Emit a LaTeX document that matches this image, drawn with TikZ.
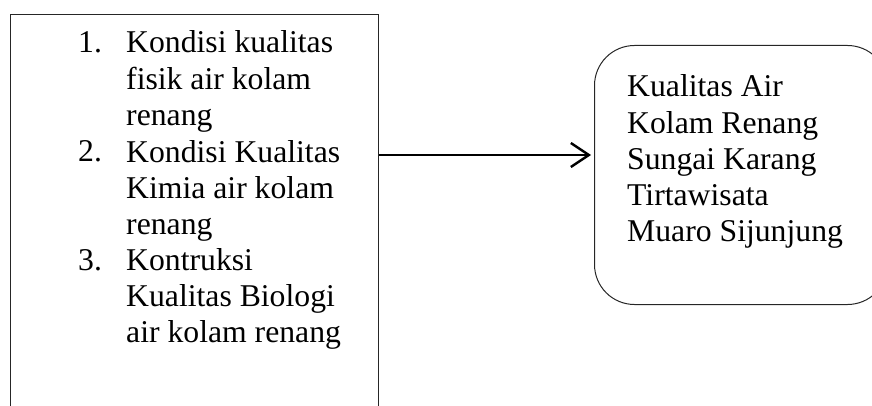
\documentclass[tikz,border=0pt]{standalone}
\usepackage{fontspec}
\setmainfont{Liberation Serif}
\usepackage{tikz}
\usetikzlibrary{arrows.meta}
\tikzset{
	kotak/.style={draw=black!85,line width=1pt,inner sep=0pt},
	teks/.style={anchor=base west,align=left,inner sep=0pt,font=\fontsize{31.7}{36.1}\selectfont},
	panah/.style={-{Straight Barb[length=18pt,width=24pt,line width=2.4pt]},line width=2.5pt,shorten >=3pt}
}

\begin{document}
\begin{tikzpicture}[x=1pt,y=-1pt]
		\clip (0,0) rectangle (872,406);
		\node[kotak,anchor=north west,minimum width=368,minimum height=430](faktor) at (10,14){};
		\node[kotak,anchor=north west,minimum width=293,minimum height=259,rounded corners=40pt](kualitas) at (594,45){};
		
		\node[teks](n1) at (78,53){1.};
		\node[teks](i1) at (126,125.2){Kondisi kualitas\\fisik air kolam\\renang};
		\node[teks](n2) at (78,162){2.};
		\node[teks](i2) at (126,234.2){Kondisi Kualitas\\Kimia air kolam\\renang};
		\node[teks](n3) at (78,270){3.};
		\node[teks](i3) at (126,342.2){Kontruksi\\Kualitas Biologi\\air kolam renang};
		
		\node[teks](hasil) at (627,241.4){Kualitas Air\\Kolam Renang\\Sungai Karang\\Tirtawisata\\Muaro Sijunjung};
		
		\coordinate(p) at (0,155);
		\draw[panah](faktor.east |- p) -- (kualitas.west |- p);
	\end{tikzpicture}
\end{document}
